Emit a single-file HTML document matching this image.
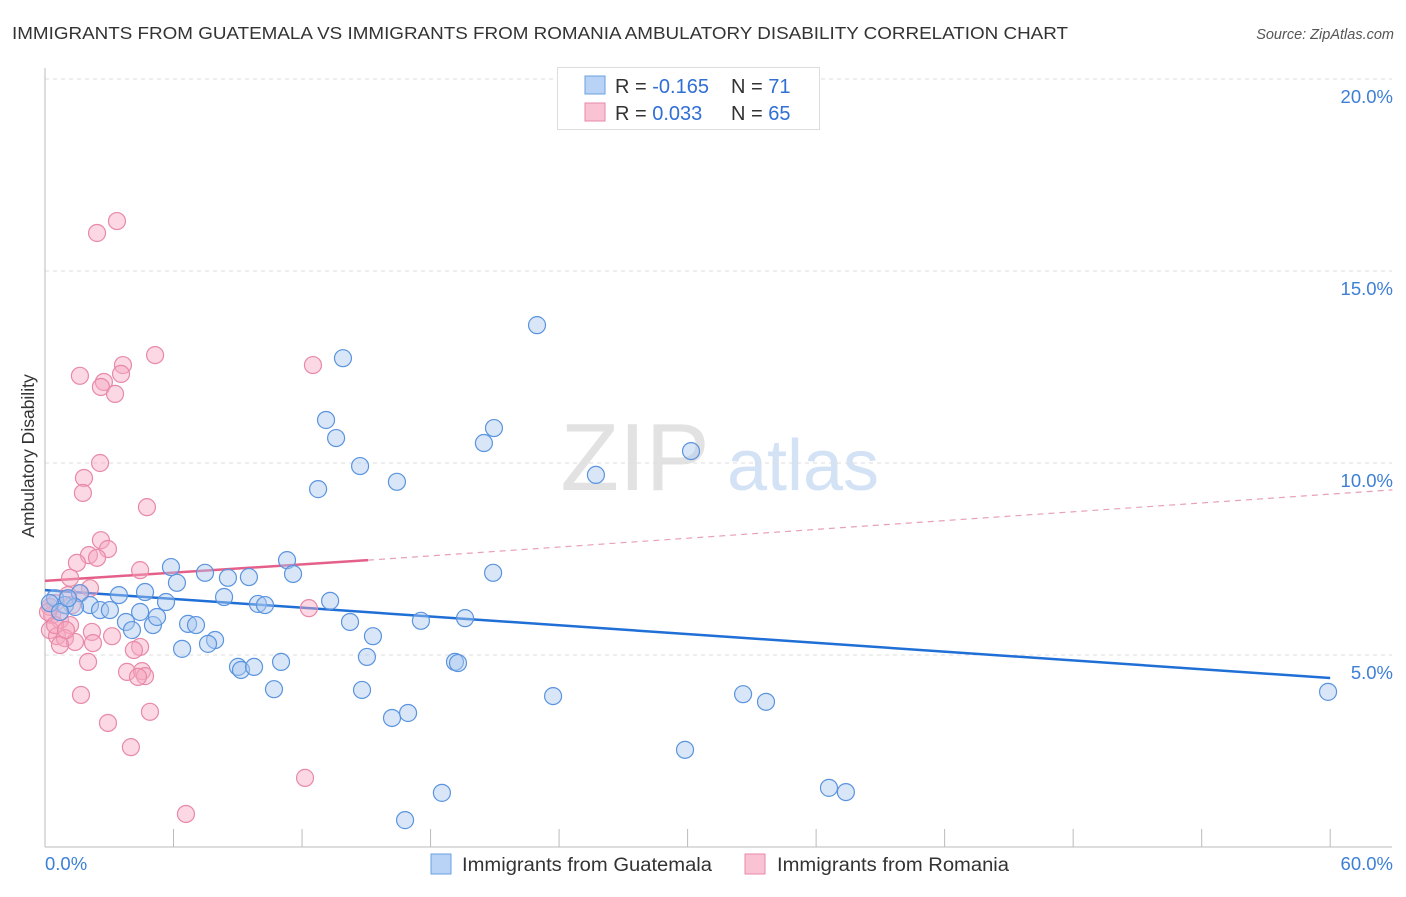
<!DOCTYPE html>
<html><head><meta charset="utf-8"><style>
body{margin:0;background:#fff;font-family:"Liberation Sans",sans-serif;}
svg text{font-family:"Liberation Sans",sans-serif;}
</style></head><body>
<svg width="1406" height="892" xmlns="http://www.w3.org/2000/svg" id="chart">
<text x="12" y="39" font-size="17.5" fill="#333" textLength="1056" lengthAdjust="spacingAndGlyphs">IMMIGRANTS FROM GUATEMALA VS IMMIGRANTS FROM ROMANIA AMBULATORY DISABILITY CORRELATION CHART</text>
<text x="1394" y="39" font-size="14.5" fill="#555" font-style="italic" text-anchor="end">Source: ZipAtlas.com</text>
<text x="34" y="456" font-size="17.5" fill="#333" text-anchor="middle" transform="rotate(-90 34 456)">Ambulatory Disability</text>
<g><text x="635" y="490" font-size="96" fill="#e2e2e2" font-family="Liberation Serif" text-anchor="middle">ZIP</text><text x="803" y="490" font-size="72" fill="#d3e2f5" text-anchor="middle">atlas</text></g>
<g id="grid"></g><g id="axes"></g><g id="trend"></g><g id="pts"></g>
<g>
<rect x="557.5" y="67.5" width="262" height="62" fill="#fff" stroke="#ddd"/>
<rect x="585" y="76" width="20" height="18" fill="#b8d3f5" stroke="#6a9fe0"/>
<rect x="585" y="103" width="20" height="18" fill="#f9c3d3" stroke="#e889a8"/>
<text x="615" y="93" font-size="20" fill="#333">R = <tspan fill="#2f6fd6">-0.165</tspan></text>
<text x="731" y="93" font-size="20" fill="#333">N = <tspan fill="#2f6fd6"> 71</tspan></text>
<text x="615" y="120" font-size="20" fill="#333">R = <tspan fill="#2f6fd6"> 0.033</tspan></text>
<text x="731" y="120" font-size="20" fill="#333">N = <tspan fill="#2f6fd6">65</tspan></text>
</g>
<g>
<rect x="431" y="854" width="20" height="20" fill="#b8d3f5" stroke="#6a9fe0"/>
<text x="462" y="871" font-size="19" fill="#333" textLength="250" lengthAdjust="spacingAndGlyphs">Immigrants from Guatemala</text>
<rect x="745" y="854" width="20" height="20" fill="#f9c3d3" stroke="#e889a8"/>
<text x="777" y="871" font-size="19" fill="#333" textLength="232" lengthAdjust="spacingAndGlyphs">Immigrants from Romania</text>
</g>
</svg>
<script>
const yTicks=[5,10,15,20];
const xTickLabels=["0.0%","60.0%"];
const blueX=[22.97,13.91,13.12,13.59,20.96,20.49,30.16,14.71,25.72,16.43,12.75,5.88,11.30,7.47,11.58,20.92,6.16,8.54,9.52,4.67,3.45,1.63,0.47,0.93,0.23,2.10,2.57,3.03,4.44,5.65,8.36,9.94,10.27,13.31,3.78,5.04,4.06,6.68,7.05,5.23,14.24,17.55,19.61,15.31,7.94,7.61,6.40,9.01,9.15,9.76,11.02,15.03,19.14,19.28,10.69,14.80,23.72,32.59,33.66,59.90,16.20,16.95,29.88,18.53,36.60,37.39,16.81,1.40,0.70,1.07];
const blueY=[13.59,12.73,11.12,10.65,10.91,10.52,10.31,9.92,9.69,9.51,9.32,7.29,7.47,7.14,7.11,7.14,6.88,7.01,7.03,6.64,6.56,6.61,6.48,6.30,6.35,6.30,6.17,6.17,6.12,6.38,6.51,6.33,6.30,6.41,5.86,5.78,5.65,5.81,5.78,5.99,5.86,5.89,5.96,5.49,5.39,5.29,5.16,4.69,4.61,4.69,4.82,4.95,4.82,4.79,4.11,4.09,3.93,3.98,3.78,4.04,3.36,3.49,2.53,1.41,1.54,1.43,0.70,6.25,6.12,6.48];
const pinkX=[3.36,2.43,5.14,12.51,1.63,3.64,3.55,2.75,2.61,3.27,2.57,1.82,1.77,4.76,2.61,2.94,2.05,2.43,1.49,4.44,1.17,2.10,1.63,1.07,0.47,0.23,0.33,0.70,1.17,0.23,0.56,0.93,1.40,2.19,2.24,3.13,4.44,4.15,0.70,2.01,3.83,4.53,4.67,4.34,1.68,4.90,2.94,4.01,12.14,6.58,12.32,0.14,0.47,0.98,1.26];
const pinkY=[16.30,15.99,12.81,12.55,12.27,12.55,12.32,12.11,11.98,11.80,10.00,9.61,9.22,8.85,7.99,7.76,7.60,7.53,7.40,7.21,7.01,6.74,6.61,6.56,6.35,6.25,6.04,5.91,5.78,5.65,5.49,5.44,5.34,5.60,5.31,5.49,5.21,5.13,5.26,4.82,4.56,4.58,4.45,4.43,3.96,3.52,3.23,2.60,1.80,0.86,6.22,6.12,5.78,5.65,6.30];
const blueTrend=[[0,6.69],[60,4.40]];
const pinkTrendSolid=[[0,6.93],[15.08,7.47]];
const pinkTrendDash=[[15.08,7.47],[62.9,9.30]];
const X=v=>45+v*21.42, Y=v=>847-v*38.4;
const NS="http://www.w3.org/2000/svg";
function mk(t,a,p){const e=document.createElementNS(NS,t);for(const k in a)e.setAttribute(k,a[k]);document.getElementById(p).appendChild(e);return e;}
yTicks.forEach(t=>{
 const l=mk('line',{x1:45,x2:1392,y1:Y(t),y2:Y(t),stroke:'#ddd','stroke-dasharray':'4,4'},'grid');
 
 
 const tx=mk('text',{x:1393,y:Y(t)+24,'font-size':18.5,fill:'#3d7fd6','text-anchor':'end'},'grid');
 tx.textContent=t.toFixed(1)+'%';
 
 
});
const ax=mk('line',{x1:45,x2:45,y1:68,y2:847,stroke:'#bbb'},'axes');


const bx=mk('line',{x1:45,x2:1392,y1:847,y2:847,stroke:'#bbb'},'axes');


for(let i=0;i<=10;i++){const t=mk('line',{x1:X(i*6),x2:X(i*6),y1:829,y2:847,stroke:'#bbb'},'axes');
 
 }
[[0,'start',45],[60,'end',1393]].forEach((d,i)=>{const t=mk('text',{x:d[2],y:870,'font-size':18.5,fill:'#3d7fd6','text-anchor':d[1]},'axes');t.textContent=xTickLabels[i];
 
 });
function pts(xs,ys,fill,stroke,name){xs.forEach((x,i)=>{const c=mk('circle',{cx:X(x),cy:Y(ys[i]),r:8.5,fill:fill,'fill-opacity':0.45,stroke:stroke,'stroke-width':1.2},'pts');
 
 });}
pts(pinkX,pinkY,'#f7a9c0','#e889a8','romania-point');
pts(blueX,blueY,'#a9c8f0','#5b94de','guatemala-point');
function ln(d,col,w,dash,name){const l=mk('line',{x1:X(d[0][0]),y1:Y(d[0][1]),x2:X(d[1][0]),y2:Y(d[1][1]),stroke:col,'stroke-width':w},'trend');if(dash)l.setAttribute('stroke-dasharray',dash);
 
 }
ln(blueTrend,'#1f6fd6',2.5,null,'guatemala-trend-line');
ln(pinkTrendSolid,'#e4608a',2.5,null,'romania-trend-line');
ln(pinkTrendDash,'#e8a0b8',1.2,'6,5','romania-trend-extension');
</script>
</body></html>
